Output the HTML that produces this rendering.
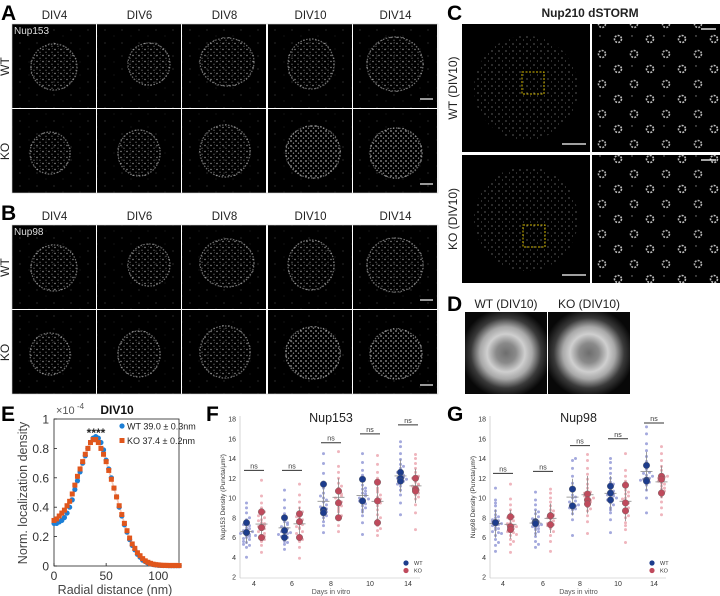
<!DOCTYPE html>
<html><head><meta charset="utf-8"><style>
html,body{margin:0;padding:0;background:#fff;}
svg{display:block;font-family:"Liberation Sans",sans-serif;}
</style></head><body>
<svg id="fig" width="720" height="596" viewBox="0 0 720 596" xmlns="http://www.w3.org/2000/svg">
<defs>
<pattern id="spk" width="6" height="6" patternUnits="userSpaceOnUse"><circle cx="1" cy="1.5" r="0.7" fill="#fff"/><circle cx="4" cy="4.2" r="0.6" fill="#ddd"/><circle cx="4.5" cy="0.8" r="0.4" fill="#aaa"/></pattern>
<pattern id="spk2" width="5" height="5" patternUnits="userSpaceOnUse"><circle cx="1" cy="1" r="0.9" fill="#fff"/><circle cx="3.5" cy="3.2" r="0.7" fill="#eee"/></pattern>
<pattern id="bg" width="17" height="13" patternUnits="userSpaceOnUse"><circle cx="3" cy="4" r="0.5" fill="#999"/><circle cx="12" cy="10" r="0.4" fill="#777"/></pattern>
<pattern id="npc" width="32" height="30" patternUnits="userSpaceOnUse"><circle cx="10" cy="9" r="3.5" fill="none" stroke="#eee" stroke-width="1.6" stroke-dasharray="2 1.2"/><circle cx="26" cy="24" r="3.5" fill="none" stroke="#ddd" stroke-width="1.6" stroke-dasharray="2 1.2"/><circle cx="24" cy="6" r="0.7" fill="#aaa"/></pattern>
<pattern id="sdot" width="7" height="7" patternUnits="userSpaceOnUse"><circle cx="2" cy="2" r="0.6" fill="#bbb"/><circle cx="5.5" cy="5" r="0.5" fill="#999"/></pattern>
<radialGradient id="ring" cx="50%" cy="50%" r="55%"><stop offset="0" stop-color="#6e6e6e"/><stop offset="0.22" stop-color="#8a8a8a"/><stop offset="0.42" stop-color="#cfcfcf"/><stop offset="0.58" stop-color="#a8a8a8"/><stop offset="0.78" stop-color="#3a3a3a"/><stop offset="1" stop-color="#080808"/></radialGradient>
</defs>
<g id="micro"></g>
<g id="chartE"></g>
<g id="chartF"></g>
<g id="chartG"></g>
</svg>
<script>
// ===== Panel E data =====
const eDist = [0,2.5,5,7.5,10,12.5,15,17.5,20,22.5,25,27.5,30,32.5,35,37.5,40,42.5,45,47.5,50,52.5,55,57.5,60,62.5,65,67.5,70,72.5,75,77.5,80,82.5,85,87.5,90,92.5,95,97.5,100,102.5,105,107.5,110,112.5,115,117.5,120];
const eWT = [0.29,0.29,0.30,0.31,0.33,0.36,0.40,0.45,0.52,0.58,0.64,0.70,0.75,0.80,0.84,0.87,0.88,0.87,0.84,0.79,0.72,0.66,0.60,0.53,0.47,0.40,0.34,0.28,0.23,0.18,0.14,0.11,0.08,0.06,0.04,0.03,0.02,0.015,0.01,0.007,0.005,0.004,0.003,0.003,0.002,0.002,0.002,0.002,0.002];
const eKO = [0.31,0.32,0.34,0.36,0.38,0.41,0.44,0.49,0.55,0.61,0.66,0.71,0.76,0.80,0.84,0.86,0.86,0.84,0.80,0.76,0.71,0.65,0.59,0.53,0.47,0.41,0.35,0.29,0.24,0.19,0.15,0.12,0.09,0.07,0.05,0.035,0.025,0.018,0.012,0.009,0.007,0.005,0.004,0.004,0.003,0.003,0.003,0.003,0.003];
const eYTicks = [0,0.2,0.4,0.6,0.8,1];
const eXTicks = [0,50,100];

// ===== Panels F/G data =====
const days = ["4","6","8","10","14"];
const fTicks = [2,4,6,8,10,12,14,16,18];
const fWTrep = [[6.5,6.5,7.5],[8.0,6.7,6.0],[11.4,8.8,8.5],[11.9,9.7,9.7],[12.6,12.0,11.7]];
const fKOrep = [[8.6,7.0,6.0],[8.4,7.6,6.0],[10.7,9.5,8.0],[11.6,9.7,7.5],[12.0,10.9,10.7]];
const fNs = [12.8,12.8,15.6,16.5,17.4];
const fWTpts = [
[4.0,5.0,5.2,5.5,5.8,6.0,6.2,6.3,6.5,6.6,6.8,7.0,7.2,7.5,7.8,8.0,8.5,9.0,9.5,5.3,6.1,6.9,5.6,6.4,7.3,6.2,5.9,6.7],
[4.8,5.3,5.6,5.9,6.0,6.2,6.4,6.6,6.8,7.0,7.3,7.6,8.0,8.4,9.0,9.8,10.8,6.5,6.1,6.9,7.5,5.5,6.3,7.1],
[6.5,7.2,7.6,8.0,8.4,8.7,9.0,9.3,9.6,10.0,10.5,11.0,11.6,12.5,13.5,14.5,8.9,9.8,8.2,9.1,10.2,8.6],
[6.3,7.5,8.2,8.8,9.2,9.6,9.9,10.2,10.5,10.9,11.3,11.8,12.3,12.8,13.6,14.5,10.0,9.4,10.7,9.0,9.7,10.4,11.0,8.6,9.9],
[8.3,9.5,10.3,10.8,11.2,11.5,11.8,12.1,12.4,12.7,13.0,13.4,13.9,14.5,15.2,15.7,12.0,11.7,11.9,12.3,11.4,12.6,13.2]];
const fKOpts = [
[4.5,5.2,5.6,6.0,6.2,6.4,6.8,7.0,7.2,7.5,7.8,8.0,8.3,8.6,9.0,9.5,10.2,11.8,6.6,7.4,6.1,6.9,7.7,8.2,5.8,7.1],
[3.9,5.0,5.6,5.9,6.2,6.6,7.0,7.3,7.6,8.0,8.3,8.6,9.0,9.6,10.3,11.4,7.8,6.9,6.4,7.1,8.1,5.8],
[6.6,7.2,7.8,8.2,8.6,9.0,9.4,9.8,10.2,10.6,11.0,11.5,12.0,12.6,13.2,14.7,9.6,10.4,9.2,10.0,8.8,11.2],
[6.2,6.7,7.2,7.8,8.3,8.8,9.2,9.7,10.1,10.6,11.0,11.5,12.0,12.6,13.4,14.3,9.5,10.3,6.9,8.0,9.9,10.8,7.5],
[6.8,8.5,9.3,9.9,10.3,10.7,11.0,11.3,11.6,11.9,12.2,12.6,13.0,13.5,14.0,14.4,11.2,10.8,10.5,11.4,12.0,10.1]];
const gWTrep = [[7.5,7.5,7.5],[7.6,7.5,7.4],[10.9,9.2,9.2],[11.2,10.5,9.8],[13.3,11.8,11.7]];
const gKOrep = [[8.1,7.1,6.8],[8.2,8.2,7.3],[10.4,9.8,9.4],[11.3,9.5,8.7],[12.2,11.9,10.5]];
const gNs = [12.5,12.7,15.3,16.0,17.6];
const gWTpts = [
[4.6,5.2,5.8,6.2,6.5,6.8,7.0,7.3,7.5,7.7,8.0,8.3,8.7,9.2,9.8,11.0,7.2,6.6,7.6,6.9,7.4,8.1,6.4,7.8,5.5,9.5],
[5.0,5.6,6.1,6.4,6.8,7.0,7.2,7.4,7.6,7.8,8.1,8.4,8.8,9.3,9.8,10.6,7.5,7.1,6.6,7.3,7.9,6.9,8.6,5.3],
[6.2,7.8,8.4,8.8,9.1,9.4,9.7,10.0,10.3,10.7,11.0,11.5,12.2,13.0,13.8,14.0,9.2,9.6,8.9,9.0,10.1,9.3],
[6.5,7.8,8.5,9.0,9.5,9.9,10.2,10.5,10.9,11.2,11.6,12.0,12.5,13.0,13.6,14.0,10.4,9.8,10.0,10.7,9.3,11.4,8.8,10.3],
[8.5,10.0,10.8,11.3,11.7,12.0,12.3,12.6,12.9,13.3,13.7,14.2,14.8,15.5,16.5,17.2,12.0,11.9,11.6,12.2,11.8,12.5]];
const gKOpts = [
[4.5,5.3,5.8,6.2,6.5,6.8,7.0,7.2,7.5,7.8,8.1,8.4,8.8,9.3,9.9,11.4,6.9,7.3,6.6,7.1,7.7,6.3,8.0,7.4,5.6],
[4.6,5.6,6.2,6.6,7.0,7.3,7.6,7.9,8.2,8.5,8.8,9.2,9.6,10.0,10.5,10.9,7.7,8.3,7.4,8.0,6.9,8.7,7.2],
[6.4,7.6,8.2,8.7,9.1,9.5,9.9,10.3,10.6,11.0,11.4,11.9,12.4,13.0,13.8,14.4,9.8,10.2,9.6,10.0,8.9,10.5],
[5.5,6.8,7.5,8.0,8.5,8.9,9.3,9.7,10.0,10.4,10.8,11.2,11.7,12.2,12.8,14.5,9.5,10.2,7.2,8.2,9.0,9.9,10.6],
[8.3,9.0,9.6,10.1,10.5,10.9,11.2,11.5,11.8,12.1,12.4,12.8,13.2,13.8,14.5,15.2,11.4,12.0,11.0,11.7,12.2,10.7]];

const NS = "http://www.w3.org/2000/svg";
function mk(parent, tag, attrs, text){
  const e = document.createElementNS(NS, tag);
  for (const k in attrs) e.setAttribute(k, attrs[k]);
  if (text !== undefined) e.textContent = text;
  parent.appendChild(e);
  return e;
}

// ===== Micrographs =====
const M = document.getElementById('micro');
function panelLetter(t, x, y){
  const e = mk(M,'text',{x:x,y:y,'font-size':21,'font-weight':'bold',fill:'#000'},t);
  
  
}
function grid(prefix, top, protein, nuclei){
  const xs=[12,97,182,268,353], w=85, h=85;
  const divs=["DIV4","DIV6","DIV8","DIV10","DIV14"];
  divs.forEach((d,i)=>{
    const t = mk(M,'text',{x:xs[i]+w/2,y:top-5,'font-size':11.5,'text-anchor':'middle',fill:'#222'},d);
    
    
  });
  ["WT","KO"].forEach((r,ri)=>{
    const t = mk(M,'text',{x:0,y:0,'font-size':12,'text-anchor':'middle',fill:'#222',transform:`translate(9,${top+h*ri+h/2}) rotate(-90)`},r);
    
    
    xs.forEach((x,ci)=>{
      const y = top + ri*h;
      const g = mk(M,'g',{});
      
      
      mk(g,'rect',{x:x,y:y,width:w-1,height:h-1,fill:'#000'});
      mk(g,'rect',{x:x,y:y,width:w-1,height:h-1,fill:'url(#bg)',opacity:0.7});
      const n = nuclei[ri][ci];
      mk(g,'ellipse',{cx:x+n[0],cy:y+n[1],rx:n[2],ry:n[3],fill:'url(#'+(ri==1&&ci>=3?'spk2':'spk')+')',opacity:0.6});
      mk(g,'ellipse',{cx:x+n[0],cy:y+n[1],rx:n[2]-1,ry:n[3]-1,fill:'none',stroke:'#bbb','stroke-width':1.2,'stroke-dasharray':'1.5 1.5',opacity:0.6});
      if (ci==4) mk(g,'line',{x1:x+67,x2:x+80,y1:y+h-10,y2:y+h-10,stroke:'#fff','stroke-width':1.2});
    });
  });
  mk(M,'rect',{x:12,y:top,width:426,height:2*h-1,fill:'none',stroke:'#ccc','stroke-width':0.6});
  const p = mk(M,'text',{x:14,y:top+10,'font-size':10,fill:'#ddd'},protein);
  
  
}
const nucA=[[[42,43,24,24],[52,40,22,22],[45,38,28,25],[43,40,24,26],[42,40,29,28]],[[38,44,21,22],[42,44,22,24],[43,42,26,27],[45,43,28,27],[43,44,27,26]]];
panelLetter('A',1,20); grid('panel-a',24,'Nup153',nucA);
panelLetter('B',1,220); grid('panel-b',225,'Nup98',nucA);

// Panel C
panelLetter('C',447,20);
{const t=mk(M,'text',{x:590,y:17,'font-size':12,'font-weight':'bold','text-anchor':'middle',fill:'#222'},'Nup210 dSTORM');
}
[["WT (DIV10)",24,[522,72]],["KO (DIV10)",155,[523,225]]].forEach((r,ri)=>{
  const y=r[1];
  const t=mk(M,'text',{x:0,y:0,'font-size':12,'text-anchor':'middle',fill:'#222',transform:`translate(457,${y+64}) rotate(-90)`},r[0]);
  
  const g1=mk(M,'g',{});
  
  mk(g1,'rect',{x:462,y:y,width:128,height:128,fill:'#000'});
  mk(g1,'circle',{cx:526,cy:y+64,r:52,fill:'url(#sdot)',opacity:0.8});
  mk(g1,'rect',{x:r[2][0],y:r[2][1],width:22,height:22,fill:'none',stroke:'#d4b800','stroke-width':1,'stroke-dasharray':'2 1.5'});
  mk(g1,'line',{x1:562,x2:586,y1:y+120,y2:y+120,stroke:'#fff','stroke-width':1.3});
  const g2=mk(M,'g',{});
  
  mk(g2,'rect',{x:592,y:y,width:128,height:128,fill:'#000'});
  mk(g2,'rect',{x:592,y:y,width:128,height:128,fill:'url(#npc)',opacity:0.8});
  mk(g2,'line',{x1:701,x2:716,y1:y+5,y2:y+5,stroke:'#fff','stroke-width':1.3});
});
// Panel D
panelLetter('D',447,311);
[["WT (DIV10)",465],["KO (DIV10)",548]].forEach((d,i)=>{
  const t=mk(M,'text',{x:d[1]+41,y:308,'font-size':12,'text-anchor':'middle',fill:'#222'},d[0]);
  
  const r=mk(M,'rect',{x:d[1],y:312,width:82,height:82,fill:'url(#ring)'});
  
});

// ===== Panel E chart =====
(function(){
  const G = document.getElementById('chartE');
  const X = v => 54 + v*1.043, Y = v => 566 - v*147;
  panelLetter('E',1,421);
  mk(G,'rect',{x:54,y:419,width:125,height:147,fill:'none',stroke:'#222','stroke-width':0.8});
  eYTicks.forEach(t=>{
    mk(G,'line',{x1:54,x2:57,y1:Y(t),y2:Y(t),stroke:'#222','stroke-width':0.8});
    const e=mk(G,'text',{x:49,y:Y(t)+4.5,'font-size':12,'text-anchor':'end',fill:'#333'},String(t));
    
  });
  eXTicks.forEach(t=>{
    mk(G,'line',{x1:X(t),x2:X(t),y1:566,y2:563,stroke:'#222','stroke-width':0.8});
    const e=mk(G,'text',{x:X(t),y:580,'font-size':12,'text-anchor':'middle',fill:'#333'},String(t));
    
  });
  let e=mk(G,'text',{x:115,y:594,'font-size':12.5,'text-anchor':'middle',fill:'#444'},'Radial distance (nm)');
  
  e=mk(G,'text',{x:0,y:0,'font-size':12.5,'text-anchor':'middle',fill:'#444',transform:'translate(27,493) rotate(-90)'},'Norm. localization density');
  
  e=mk(G,'text',{x:56,y:414,'font-size':11,fill:'#555'},'×10');
  
  mk(G,'text',{x:77,y:409,'font-size':8,fill:'#555'},'-4');
  e=mk(G,'text',{x:117,y:414,'font-size':12,'font-weight':'bold','text-anchor':'middle',fill:'#111'},'DIV10');
  
  e=mk(G,'text',{x:96,y:437,'font-size':12,'font-weight':'bold','text-anchor':'middle',fill:'#222'},'****');
  
  let up='',dn='';
  eDist.forEach((d,i)=>{ up+=(i?'L':'M')+X(d)+','+Y(eKO[i]+0.02); });
  for(let i=eDist.length-1;i>=0;i--){ dn+='L'+X(eDist[i])+','+Y(Math.max(0,eKO[i]-0.02)); }
  e=mk(G,'path',{d:up+dn+'Z',fill:'#f4b7a0',opacity:0.7});
  
  eWT.forEach((v,i)=>{
    const c=mk(G,'circle',{cx:X(eDist[i]),cy:Y(v),r:2.6,fill:'#1c7fd6'});
    
  });
  eKO.forEach((v,i)=>{
    const r=mk(G,'rect',{x:X(eDist[i])-2.5,y:Y(v)-2.5,width:5,height:5,fill:'#e0561c'});
    
  });
  mk(G,'circle',{cx:122,cy:426,r:2.6,fill:'#1c7fd6'});
  e=mk(G,'text',{x:127,y:429.5,'font-size':9,fill:'#222'},'WT 39.0 ± 0.3nm');
  
  mk(G,'rect',{x:119.5,y:438,width:5,height:5,fill:'#e0561c'});
  e=mk(G,'text',{x:127,y:444,'font-size':9,fill:'#222'},'KO 37.4 ± 0.2nm');
  
})();

// ===== Swarm charts =====
function swarm(gid, letter, lx, ax, cx, title, ylab, wtRep, koRep, wtPts, koPts, ns, legX){
  const G=document.getElementById(gid);
  const Y=v=>577-(v-2)*9.875;
  const X=i=>cx[i];
  panelLetter(letter,lx,421);
  let e=mk(G,'text',{x:(cx[0]+cx[4])/2,y:422,'font-size':12.5,'text-anchor':'middle',fill:'#222'},title);
  
  mk(G,'line',{x1:ax,x2:ax,y1:416,y2:578,stroke:'#bbb','stroke-width':0.6});
  mk(G,'line',{x1:ax,x2:cx[4]+12,y1:578,y2:578,stroke:'#bbb','stroke-width':0.6});
  fTicks.forEach(t=>{
    const e=mk(G,'text',{x:ax-4,y:Y(t)+2.5,'font-size':7,'text-anchor':'end',fill:'#333'},String(t));
    
  });
  days.forEach((d,i)=>{
    const e=mk(G,'text',{x:X(i),y:586,'font-size':7,'text-anchor':'middle',fill:'#333'},d);
    
  });
  e=mk(G,'text',{x:(cx[0]+cx[4])/2,y:594,'font-size':7,'text-anchor':'middle',fill:'#555'},'Days in vitro');
  
  e=mk(G,'text',{x:0,y:0,'font-size':6.5,'text-anchor':'middle',fill:'#333',transform:`translate(${ax-15},497) rotate(-90)`},ylab);
  
  const groups=[[wtPts,wtRep,-7.5,'#8d93d4','#1d3c8c','wt'],[koPts,koRep,7.5,'#eba2ad','#bf4a5c','ko']];
  days.forEach((d,i)=>{
    groups.forEach(gr=>{
      const pts=gr[0][i], rep=gr[1][i], x0=X(i)+gr[2];
      const bins={};
      pts.forEach(v=>{
        const b=Math.round(v/0.4); bins[b]=(bins[b]||0)+1;
        const k=bins[b]-1, off=(k%2?1:-1)*Math.ceil(k/2)*3;
        const c=mk(G,'circle',{cx:x0+off,cy:Y(v),r:1.5,fill:gr[3],opacity:0.8});
        
      });
      const mean=pts.reduce((a,b)=>a+b,0)/pts.length;
      const sd=Math.sqrt(pts.reduce((a,b)=>a+(b-mean)*(b-mean),0)/pts.length);
      mk(G,'line',{x1:x0,x2:x0,y1:Y(mean+sd),y2:Y(mean-sd),stroke:'#888','stroke-width':0.8});
      mk(G,'line',{x1:x0-6,x2:x0+6,y1:Y(mean),y2:Y(mean),stroke:'#888','stroke-width':0.8});
      rep.forEach(v=>{
        const c=mk(G,'circle',{cx:x0,cy:Y(v),r:3.3,fill:gr[4],stroke:'#666','stroke-width':0.4});
        
      });
    });
    const yb=Y(ns[i]);
    const l=mk(G,'line',{x1:X(i)-10,x2:X(i)+10,y1:yb,y2:yb,stroke:'#333','stroke-width':1});
    
    const t=mk(G,'text',{x:X(i),y:yb-2,'font-size':7,'text-anchor':'middle',fill:'#333'},'ns');
    
  });
  const lg=mk(G,'g',{});
  
  mk(lg,'circle',{cx:legX,cy:563,r:2.6,fill:'#1d3c8c'});
  mk(lg,'text',{x:legX+8,y:565,'font-size':5.5,fill:'#333'},'WT');
  mk(lg,'circle',{cx:legX,cy:570.5,r:2.6,fill:'#bf4a5c'});
  mk(lg,'text',{x:legX+8,y:572.5,'font-size':5.5,fill:'#333'},'KO');
}
swarm('chartF','F',206,240,[254,292,331,370,408],'Nup153','Nup153 Density (Puncta/µm²)',fWTrep,fKOrep,fWTpts,fKOpts,fNs,406);
swarm('chartG','G',447,490,[503,543,580,618,654],'Nup98','Nup98 Density (Puncta/µm²)',gWTrep,gKOrep,gWTpts,gKOpts,gNs,652);
</script>
</body></html>
